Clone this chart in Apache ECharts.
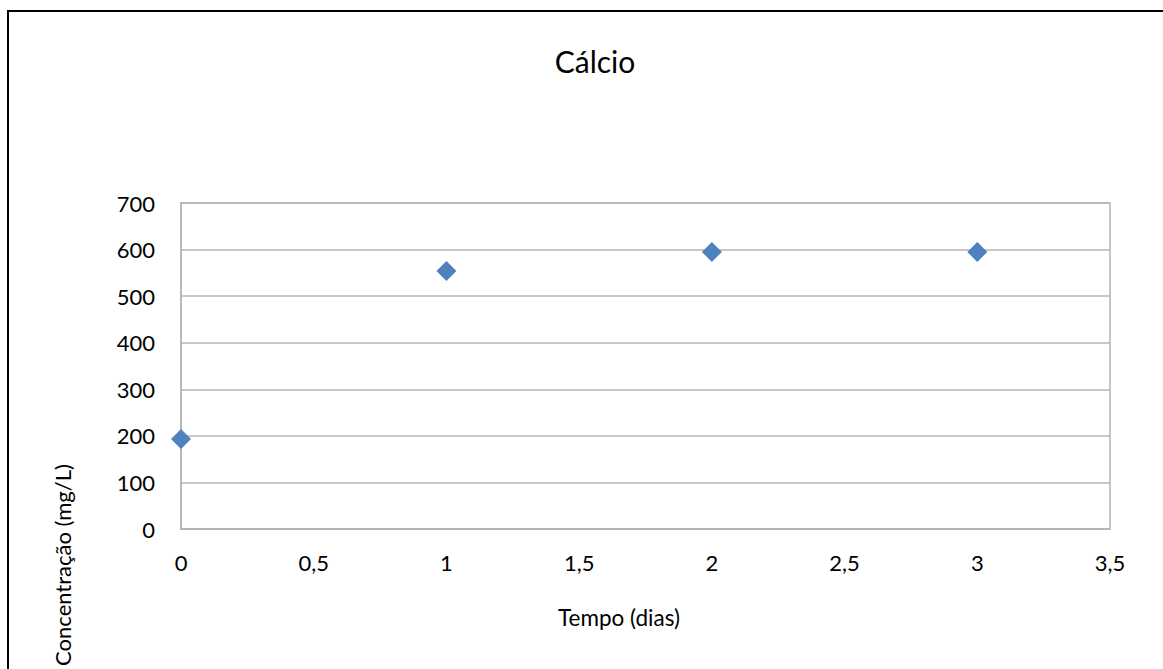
<!DOCTYPE html>
<html>
<head>
<meta charset="utf-8">
<script src="https://cdn.jsdelivr.net/npm/echarts@6/dist/echarts.min.js"></script>
<style>
  html, body { margin: 0; padding: 0; background: #fff; }
  #frame {
    position: absolute; left: 7px; top: 10px; width: 1200px; height: 700px;
    border-left: 2px solid #000; border-top: 2px solid #000;
  }
  #main { position: absolute; left: 0; top: 0; width: 1163px; height: 669px; }
</style>
</head>
<body>
<div id="frame"></div>
<div id="main"></div>
<script>
// dados
var dias = [0, 1, 2, 3];
var calcio = [193, 554, 595, 595];
var titulo = 'Cálcio';
var nomeX = 'Tempo (dias)';
var nomeY = 'Concentração (mg/L)';

var fonte = 'Lato, "Open Sans", sans-serif';
var cinza = '#b4b4b4';

var pontos = dias.map(function (d, i) { return [d, calcio[i]]; });

var myChart = echarts.init(document.getElementById('main'), null, { renderer: 'svg' });

var option = {
    animation: false,
    title: {
        text: titulo,
        left: 595,
        top: 46,
        padding: 0,
        textAlign: 'center',
        textStyle: { fontFamily: fonte, fontSize: 30, fontWeight: 'normal', color: '#000' }
    },
    grid: {
        left: 181,
        right: 53,
        top: 203,
        bottom: 140,
        show: true,
        borderColor: cinza,
        borderWidth: 1.5
    },
    xAxis: {
        type: 'value',
        min: 0,
        max: 3.5,
        interval: 0.5,
        axisLine: { show: true, lineStyle: { color: cinza, width: 1.5 } },
        axisTick: { show: false },
        splitLine: { show: false },
        axisLabel: {
            margin: 22,
            fontFamily: fonte,
            fontSize: 22,
            color: '#000',
            formatter: function (v) { return String(v).replace('.', ','); }
        }
    },
    yAxis: {
        type: 'value',
        min: 0,
        max: 700,
        interval: 100,
        axisLine: { show: true, lineStyle: { color: cinza, width: 1.5 } },
        axisTick: { show: false },
        splitLine: { show: true, lineStyle: { color: cinza, width: 1.5 } },
        axisLabel: {
            margin: 26,
            fontFamily: fonte,
            fontSize: 22,
            color: '#000'
        }
    },
    graphic: [
        {
            type: 'text',
            x: 619,
            y: 617,
            style: {
                text: nomeX,
                fontFamily: fonte,
                fontSize: 22.5,
                fill: '#000',
                align: 'center',
                verticalAlign: 'middle'
            }
        },
        {
            type: 'text',
            x: 62,
            y: 565,
            rotation: Math.PI / 2,
            style: {
                text: nomeY,
                fontFamily: fonte,
                fontSize: 22,
                fill: '#000',
                align: 'center',
                verticalAlign: 'middle'
            }
        }
    ],
    series: [{
        name: titulo,
        type: 'scatter',
        symbol: 'diamond',
        symbolSize: 20,
        itemStyle: { color: '#4F81BD', opacity: 1 },
        data: pontos
    }]
};
myChart.setOption(option);
</script>
</body>
</html>
